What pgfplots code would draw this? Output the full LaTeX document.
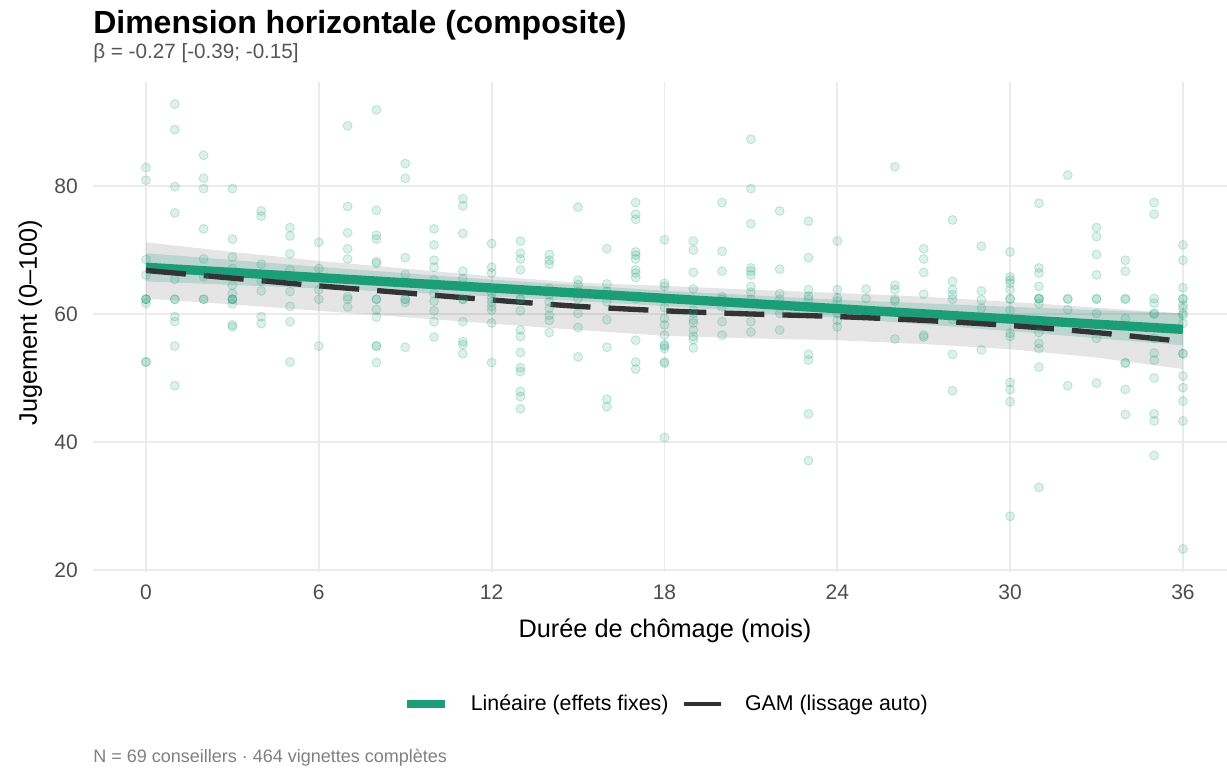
\documentclass[border=0pt]{standalone}
\usepackage{pgfplots}
\pgfplotsset{compat=1.18}
\usepackage{pgfplotstable}
\usepackage{fontspec}
\setmainfont{Liberation Sans}
\definecolor{dk2}{HTML}{1B9E77}
\definecolor{gamc}{HTML}{333333}
\definecolor{gridc}{HTML}{EBEBEB}
\definecolor{tickc}{HTML}{4D4D4D}
\definecolor{subc}{HTML}{555555}
\definecolor{capc}{HTML}{808080}

\pgfplotstableread{
x y
0 82.9
0 80.9
0 68.5
0 66.1
0 62.3
0 62.3
0 62.3
0 61.7
0 52.5
0 52.5
1 92.8
1 88.8
1 79.9
1 75.8
1 65.4
1 62.3
1 62.3
1 59.6
1 58.8
1 55.0
1 48.8
2 84.8
2 81.2
2 79.6
2 73.3
2 68.6
2 65.8
2 62.3
2 62.3
3 79.6
3 71.7
3 68.9
3 67.1
3 64.5
3 63.2
3 62.3
3 62.3
3 62.3
3 61.6
3 58.3
3 58.0
4 76.1
4 75.3
4 67.8
4 65.1
4 63.6
4 59.6
4 58.5
5 73.5
5 72.2
5 69.4
5 66.9
5 63.5
5 61.2
5 58.8
5 52.5
6 71.2
6 67.1
6 63.8
6 62.3
6 55.0
7 89.4
7 76.8
7 72.7
7 70.2
7 68.6
7 62.7
7 62.3
7 61.1
8 91.9
8 76.2
8 72.3
8 71.7
8 68.2
8 67.9
8 62.3
8 62.3
8 60.7
8 59.5
8 55.0
8 55.0
8 52.4
9 83.5
9 81.2
9 68.8
9 66.2
9 62.3
9 62.3
9 61.8
9 54.8
10 73.3
10 70.8
10 68.4
10 67.3
10 65.3
10 63.2
10 62.0
10 60.5
10 58.8
10 56.4
11 78.0
11 76.9
11 72.6
11 66.7
11 65.5
11 62.3
11 62.3
11 58.8
11 55.7
11 55.2
11 53.8
12 71.0
12 67.3
12 66.4
12 63.3
12 62.5
12 61.9
12 61.2
12 60.6
12 58.6
12 52.4
13 71.4
13 69.5
13 68.6
13 66.9
13 62.4
13 62.3
13 60.5
13 57.5
13 56.5
13 54.0
13 51.6
13 51.0
13 47.9
13 47.1
13 45.2
14 69.3
14 68.4
14 67.8
14 64.0
14 63.0
14 61.9
14 60.9
14 59.8
14 59.0
14 57.1
15 76.7
15 65.3
15 64.6
15 63.5
15 62.4
15 60.1
15 57.9
15 53.3
16 70.2
16 64.7
16 63.5
16 61.9
16 59.1
16 54.8
16 46.7
16 45.5
17 77.4
17 75.6
17 74.8
17 69.7
17 69.2
17 68.6
17 66.9
17 66.4
17 65.7
17 62.4
17 55.9
17 52.5
17 51.4
18 71.6
18 64.8
18 64.3
18 61.0
18 59.3
18 58.3
18 56.7
18 55.2
18 55.0
18 54.6
18 52.5
18 52.3
18 40.7
19 71.4
19 70.0
19 66.5
19 63.9
19 60.6
19 60.1
19 59.1
19 58.6
19 57.5
19 56.5
19 56.0
19 54.7
20 77.4
20 69.8
20 66.7
20 62.7
20 62.3
20 61.1
20 58.8
20 56.7
21 87.3
21 79.6
21 74.1
21 67.2
21 66.7
21 66.1
21 64.3
21 63.4
21 62.3
21 58.8
21 57.2
22 76.1
22 67.0
22 63.2
22 62.3
22 61.5
22 60.1
22 57.5
23 74.5
23 68.8
23 63.8
23 62.8
23 62.3
23 53.7
23 52.8
23 44.4
23 37.1
24 71.4
24 63.8
24 62.5
24 62.0
24 60.1
24 59.0
24 58.0
25 63.9
25 62.4
26 83.0
26 64.5
26 63.8
26 62.3
26 62.0
26 56.1
27 70.2
27 68.6
27 66.5
27 63.1
27 56.7
27 56.4
28 74.7
28 65.1
28 63.8
28 63.0
28 62.3
28 59.1
28 53.7
28 48.0
29 70.6
29 63.6
29 62.2
29 60.9
29 54.4
30 69.7
30 65.8
30 65.3
30 64.8
30 63.8
30 62.4
30 62.3
30 60.6
30 57.0
30 56.5
30 49.3
30 48.2
30 46.3
30 28.4
31 77.3
31 67.2
31 66.4
31 64.3
31 62.4
31 62.4
31 62.4
31 61.6
31 57.1
31 55.4
31 54.6
31 51.7
31 32.9
32 81.7
32 62.4
32 62.3
32 60.7
32 48.8
33 73.5
33 72.1
33 69.3
33 66.1
33 62.4
33 62.3
33 60.1
33 56.2
33 49.2
34 68.4
34 66.7
34 62.4
34 62.3
34 59.3
34 52.4
34 52.3
34 48.2
34 44.3
35 77.4
35 75.6
35 62.4
35 61.7
35 60.1
35 60.0
35 56.2
35 53.9
35 52.8
35 50.0
35 44.4
35 43.3
35 37.9
36 70.8
36 68.4
36 64.1
36 62.4
36 62.3
36 61.4
36 60.9
36 60.1
36 59.8
36 58.5
36 53.8
36 53.8
36 50.3
36 48.5
36 46.4
36 43.3
36 23.3
}\points

\pgfplotstableread{
x y
0 66.8
3 65.6
6 64.4
9 63.3
12 62.2
15 61.2
18 60.5
21 60.0
24 59.6
27 59.0
30 58.2
33 57.1
36 55.7
}\gam

\begin{document}
\begin{tikzpicture}[x=0.75pt,y=0.75pt]
\useasboundingbox (0,0) rectangle (1227,770);
\begin{axis}[
  at={(69.75pt,148.5pt)}, anchor=south west,
  scale only axis, width=850.5pt, height=367.5pt,
  xmin=-1.84, xmax=37.53, ymin=19.69, ymax=96.25,
  xtick={0,6,12,18,24,30,36}, ytick={20,40,60,80},
  minor xtick={}, minor ytick={},
  axis line style={draw=none}, major tick length=0pt,
  grid=major, major grid style={line width=1.4pt, color=gridc},
  /pgf/number format/assume math mode=true,
  tick label style={font=\fontsize{15.75}{18}\selectfont, text=tickc},
  xticklabel style={inner sep=0pt, anchor=north, yshift=-9.75pt},
  yticklabel style={inner sep=0pt, anchor=east, xshift=-11.25pt},
  legend style={at={(0.5057,-0.269)}, anchor=center, draw=none, fill=none,
    font=\fontsize{16}{19}\selectfont,
    /tikz/every odd column/.append style={column sep=14.5pt},
    /tikz/every even column/.append style={column sep=8pt}},
  legend columns=2, legend cell align=left,
]
% GAM confidence band
\addplot[draw=none, fill=black, fill opacity=0.1, forget plot] coordinates {
(0,71.2) (3,69.7) (6,68.3) (9,67.1) (12,65.9) (15,64.9) (18,64.4) (21,63.8) (24,63.3) (27,62.7) (30,61.9) (33,61.0) (36,60.1)
(36,51.4) (33,53.2) (30,54.5) (27,55.3) (24,55.9) (21,56.2) (18,56.6) (15,57.5) (12,58.5) (9,59.5) (6,60.5) (3,61.5) (0,62.4)
} -- cycle;
% linear confidence band
\addplot[draw=none, fill=dk2, fill opacity=0.2, forget plot] coordinates {
(0,69.5) (6,67.38) (12,65.37) (18,63.65) (24,62.23) (30,61.12) (36,60.1)
(36,55.1) (30,57.32) (24,59.43) (18,61.25) (12,62.77) (6,63.98) (0,65.1)
} -- cycle;
% points
\addplot[only marks, mark=*, mark size=3.35pt,
  mark options={fill=dk2, draw=dk2, fill opacity=0.15, draw opacity=0.22, line width=0.7pt},
  forget plot] table[x=x,y=y] {\points};
% linear fit
\addplot[dk2, line width=7pt,
  legend image code/.code={\draw[dk2, line width=6.2pt] (0pt,0pt) -- (28.5pt,0pt);}]
  coordinates {(0,67.3) (36,57.6)};
\addlegendentry{Linéaire (effets fixes)}
% GAM
\addplot[gamc, line width=4pt, dash pattern=on 30pt off 13.5pt, smooth,
  legend image code/.code={\draw[gamc, line width=3pt] (0pt,0pt) -- (28pt,0pt);}]
  table[x=x,y=y] {\gam};
\addlegendentry{GAM (lissage auto)}
\end{axis}
\node[anchor=base west, inner sep=0pt] at (93,736) {\fontsize{24}{28}\selectfont\bfseries Dimension horizontale (composite)};
\node[anchor=base west, inner sep=0pt, text=subc] at (93,711) {\fontsize{15.5}{18}\selectfont β = -0.27 [-0.39; -0.15]};
\node[anchor=base, inner sep=0pt] at (665,132) {\fontsize{19}{22}\selectfont Durée de chômage (mois)};
\node[anchor=base, inner sep=0pt, rotate=90] at (37,447.5) {\fontsize{19}{22}\selectfont Jugement (0–100)};
\node[anchor=base west, inner sep=0pt, text=capc] at (93,7) {\fontsize{13.5}{16}\selectfont N = 69 conseillers · 464 vignettes complètes};
\end{tikzpicture}
\end{document}
